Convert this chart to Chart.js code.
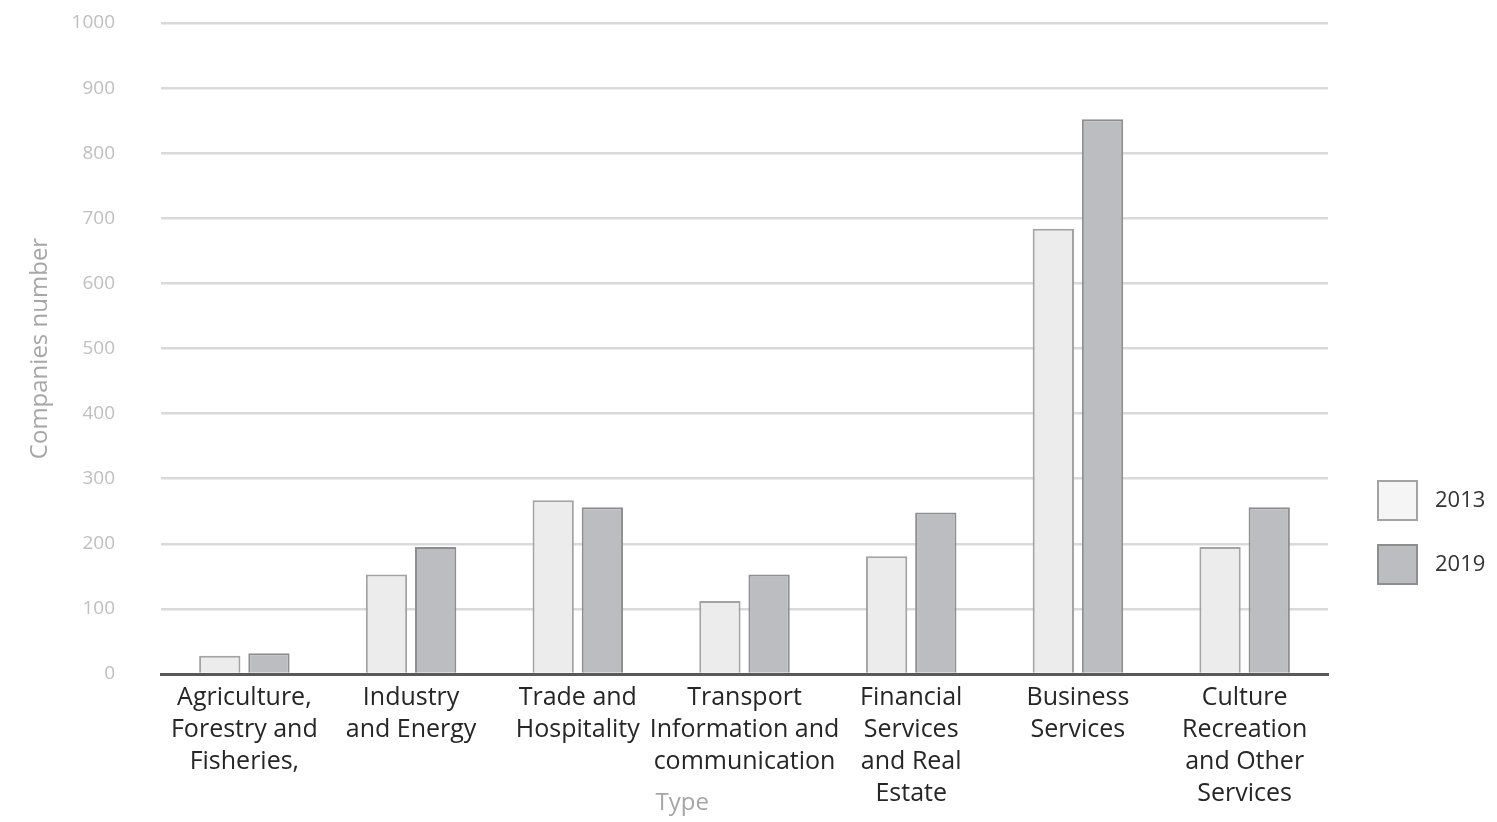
<!DOCTYPE html>
<html lang="en">

<head>
    <meta charset="UTF-8">
    <title>Companies by Type</title>
    <script src="https://cdn.jsdelivr.net/npm/chart.js"></script>
    <style>
        html, body { margin: 0; padding: 0; background: #fff; }
        .chart-container { position: relative; width: 1497px; height: 822px; }
    </style>
</head>

<body>
    <div class="chart-container">
        <canvas id="companiesChart"></canvas>
    </div>

    <script>
        // Data
        const categories = [
            ['Agriculture,', 'Forestry and', 'Fisheries,'],
            ['Industry', 'and Energy'],
            ['Trade and', 'Hospitality'],
            ['Transport', 'Information and', 'communication'],
            ['Financial', 'Services', 'and Real', 'Estate'],
            ['Business', 'Services'],
            ['Culture', 'Recreation', 'and Other', 'Services']
        ];
        const years = ['2013', '2019'];
        const values2013 = [28, 153, 267, 112, 181, 684, 195];
        const values2019 = [32, 195, 256, 153, 248, 852, 256];
        const yTicks = [0, 100, 200, 300, 400, 500, 600, 700, 800, 900, 1000];

        const FONT = "'Open Sans', 'Noto Sans', sans-serif";

        // Legend drawn on the right, lower than centre like the original
        const sideLegend = {
            id: 'sideLegend',
            afterDraw(chart) {
                const ctx = chart.ctx;
                const x = 1378, y0 = 481, box = 39, step = 64;
                ctx.save();
                chart.data.datasets.forEach((ds, i) => {
                    const y = y0 + i * step;
                    ctx.fillStyle = ds.legendFill || ds.backgroundColor;
                    ctx.strokeStyle = ds.borderColor;
                    ctx.lineWidth = 2;
                    ctx.fillRect(x, y, box, box);
                    ctx.strokeRect(x, y, box, box);
                    ctx.fillStyle = '#333333';
                    ctx.font = '22px ' + FONT;
                    ctx.textBaseline = 'middle';
                    ctx.textAlign = 'left';
                    ctx.fillText(ds.label, x + box + 18, y + box / 2);
                });
                ctx.restore();
            }
        };

        const ctx = document.getElementById('companiesChart').getContext('2d');
        new Chart(ctx, {
            type: 'bar',
            data: {
                labels: categories,
                datasets: [{
                    label: years[0],
                    data: values2013,
                    backgroundColor: '#ececec',
                    legendFill: '#f5f5f5',
                    borderColor: '#a3a3a3',
                    borderWidth: 2
                }, {
                    label: years[1],
                    data: values2019,
                    backgroundColor: '#bcbdc1',
                    borderColor: '#8e8e8e',
                    borderWidth: 2
                }]
            },
            options: {
                responsive: true,
                maintainAspectRatio: false,
                animation: false,
                categoryPercentage: 0.59,
                barPercentage: 0.84,
                layout: { padding: { top: 23, right: 169, bottom: 0, left: 0 } },
                plugins: {
                    legend: { display: false },
                    tooltip: { enabled: false }
                },
                scales: {
                    x: {
                        grid: { display: false, drawTicks: false },
                        border: { display: true, color: '#595959', width: 3 },
                        ticks: {
                            color: '#262626',
                            font: { family: FONT, size: 25, lineHeight: 1.28 },
                            padding: 8,
                            maxRotation: 0,
                            autoSkip: false
                        },
                        title: {
                            display: true,
                            // trailing spaces nudge the title left, as in the original
                            text: 'Type' + ' '.repeat(20),
                            color: '#a6a6a6',
                            font: { family: FONT, size: 24 },
                            padding: { top: 0, bottom: 4 }
                        },
                        afterFit: s => { s.height = 148; }
                    },
                    y: {
                        min: 0,
                        max: 1000,
                        afterBuildTicks: s => { s.ticks = yTicks.map(v => ({ value: v })); },
                        grid: {
                            color: '#d9d9d9',
                            lineWidth: 2.5,
                            drawTicks: true,
                            tickLength: 46,
                            tickColor: 'rgba(0,0,0,0)'
                        },
                        border: { display: false },
                        ticks: {
                            color: '#bfbfbf',
                            font: { family: FONT, size: 19 },
                            padding: 0,
                            callback: v => String(v)
                        },
                        title: {
                            display: true,
                            text: 'Companies number',
                            color: '#a6a6a6',
                            font: { family: FONT, size: 24 },
                            padding: { top: 26, bottom: 0 }
                        },
                        afterFit: s => { s.width = 161; }
                    }
                }
            },
            plugins: [sideLegend]
        });
    </script>
</body>

</html>
